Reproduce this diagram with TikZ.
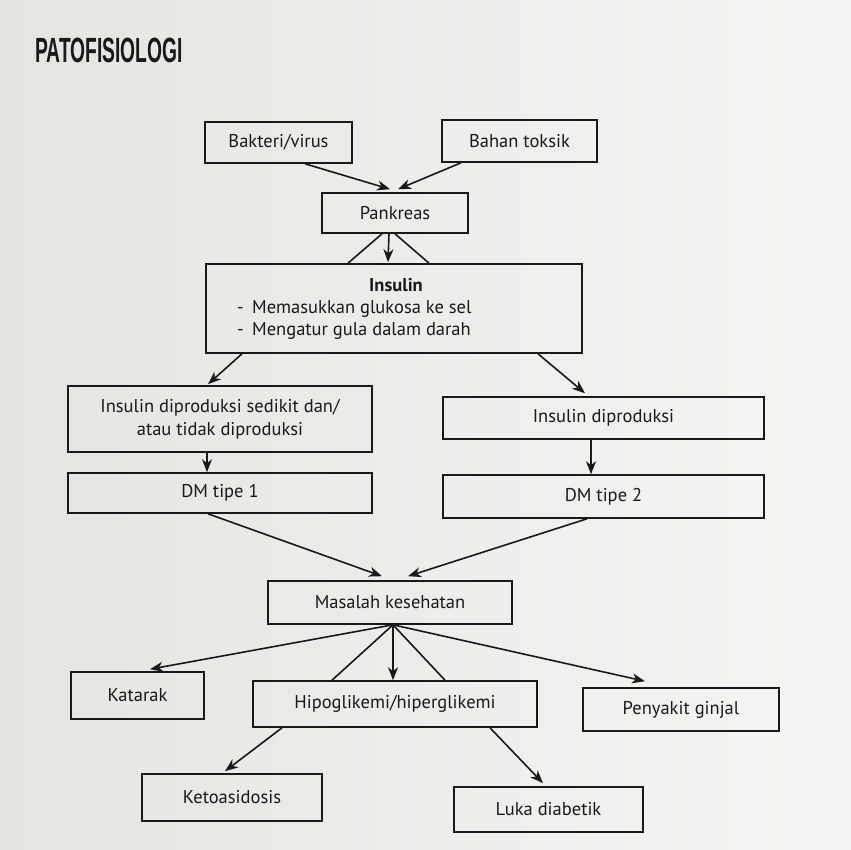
\documentclass[tikz,border=0pt]{standalone}
\usepackage{fontspec}
\setmainfont{PT Sans}
\newfontfamily\titlefont{Liberation Sans}
\usetikzlibrary{arrows.meta}
\definecolor{ink}{RGB}{25,25,25}
\definecolor{paperL}{RGB}{228,228,225}
\definecolor{paperR}{RGB}{245,245,243}
\tikzset{
  box/.style={draw=ink, line width=1.6pt, fill=none, inner sep=0pt, align=center,
    font=\fontsize{18.5}{23}\selectfont, text=ink},
  arr/.style={draw=ink, line width=1.6pt, -{Stealth[length=13pt,width=10pt,inset=4pt]}},
  ln/.style={draw=ink, line width=1.6pt},
  txt/.style={font=\fontsize{18.5}{23}\selectfont, text=ink, inner sep=0pt}
}
\begin{document}
\begin{tikzpicture}[x=1pt,y=-1pt]
\shade[left color=paperL, right color=paperR] (0,0) rectangle (851,850);
\useasboundingbox (0,0) rectangle (851,850);

\node[anchor=west, inner sep=0pt, text=ink] (title) at (35,50)
  {\scalebox{0.55}[1]{\titlefont\bfseries\fontsize{35}{35}\selectfont PATOFISIOLOGI}};

\node[box, minimum width=147pt, minimum height=41pt] (bakteri) at (278.5,142.5) {Bakteri/virus};
\node[box, minimum width=155pt, minimum height=42pt] (bahan) at (519.5,141) {Bahan toksik};
\node[box, minimum width=146pt, minimum height=40pt] (pankreas) at (395,213) {Pankreas};
\node[box, minimum width=376pt, minimum height=89pt] (insulin) at (394,308.5) {};
\node[txt] (institle) at (396,285) {\bfseries Insulin};
\node[txt, anchor=west] (ins1) at (237,309) {\makebox[15pt][l]{-}Memasukkan glukosa ke sel};
\node[txt, anchor=west] (ins2) at (237,331) {\makebox[15pt][l]{-}Mengatur gula dalam darah};

\node[box, minimum width=304pt, minimum height=66pt] (left1) at (220,419)
  {Insulin diproduksi sedikit dan/\\atau tidak diproduksi};
\node[box, minimum width=321pt, minimum height=42pt] (right1) at (603.5,418) {Insulin diproduksi};
\node[box, minimum width=304pt, minimum height=40pt] (dm1) at (220,493) {DM tipe 1};
\node[box, minimum width=321pt, minimum height=43pt] (dm2) at (603.5,496.5) {DM tipe 2};
\node[box, minimum width=244pt, minimum height=43pt] (masalah) at (390,602.5) {Masalah kesehatan};
\node[box, minimum width=133pt, minimum height=47pt] (katarak) at (137.5,695.5) {Katarak};
\node[box, minimum width=284pt, minimum height=46pt] (hipo) at (395,704) {Hipoglikemi/hiperglikemi};
\node[box, minimum width=196pt, minimum height=43pt] (ginjal) at (681,709.5) {Penyakit ginjal};
\node[box, minimum width=180pt, minimum height=47pt] (keto) at (232,797.5) {Ketoasidosis};
\node[box, minimum width=189pt, minimum height=45pt] (luka) at (548.5,809.5) {Luka diabetik};

% connectors
\draw[arr] ([xshift=26.5pt]bakteri.south) -- ([xshift=-5pt,yshift=3pt]pankreas.north);
\draw[arr] ([xshift=-58.5pt]bahan.south) -- ([xshift=3pt,yshift=3pt]pankreas.north);
\draw[arr] ([xshift=-6pt]pankreas.south) -- ([xshift=-6pt,yshift=1pt]insulin.north);
\draw[ln] ([xshift=-13pt]pankreas.south) -- ([xshift=-46pt]insulin.north);
\draw[ln] ([xshift=0pt]pankreas.south) -- ([xshift=35pt]insulin.north);

\draw[arr] ([xshift=-152pt]insulin.south) -- ([xshift=-12pt,yshift=1pt]left1.north);
\draw[arr] ([xshift=144pt]insulin.south) -- ([xshift=-18.5pt,yshift=3pt]right1.north);
\draw[arr] ([xshift=-13pt]left1.south) -- ([xshift=-13pt]dm1.north);
\draw[arr] ([xshift=-12.5pt]right1.south) -- ([xshift=-12.5pt]dm2.north);
\draw[arr] ([xshift=-12pt]dm1.south) -- ([xshift=-8pt,yshift=4pt]masalah.north);
\draw[arr] ([xshift=-16.5pt]dm2.south) -- ([xshift=18pt,yshift=4pt]masalah.north);

\coordinate (fan) at ([xshift=3pt]masalah.south);
\draw[arr] (fan) -- ([xshift=12.5pt,yshift=2pt]katarak.north);
\draw[ln] (fan) -- ([xshift=-63pt]hipo.north);
\draw[arr] (fan) -- ([xshift=-2pt]hipo.north);
\draw[ln] (fan) -- ([xshift=50pt]hipo.north);
\draw[arr] (fan) -- ([xshift=-36pt,yshift=6pt]ginjal.north);

\draw[arr] ([xshift=-113pt]hipo.south) -- ([xshift=-7pt,yshift=2pt]keto.north);
\draw[arr] ([xshift=95pt]hipo.south) -- ([xshift=-5.5pt,yshift=3pt]luka.north);
\end{tikzpicture}
\end{document}
